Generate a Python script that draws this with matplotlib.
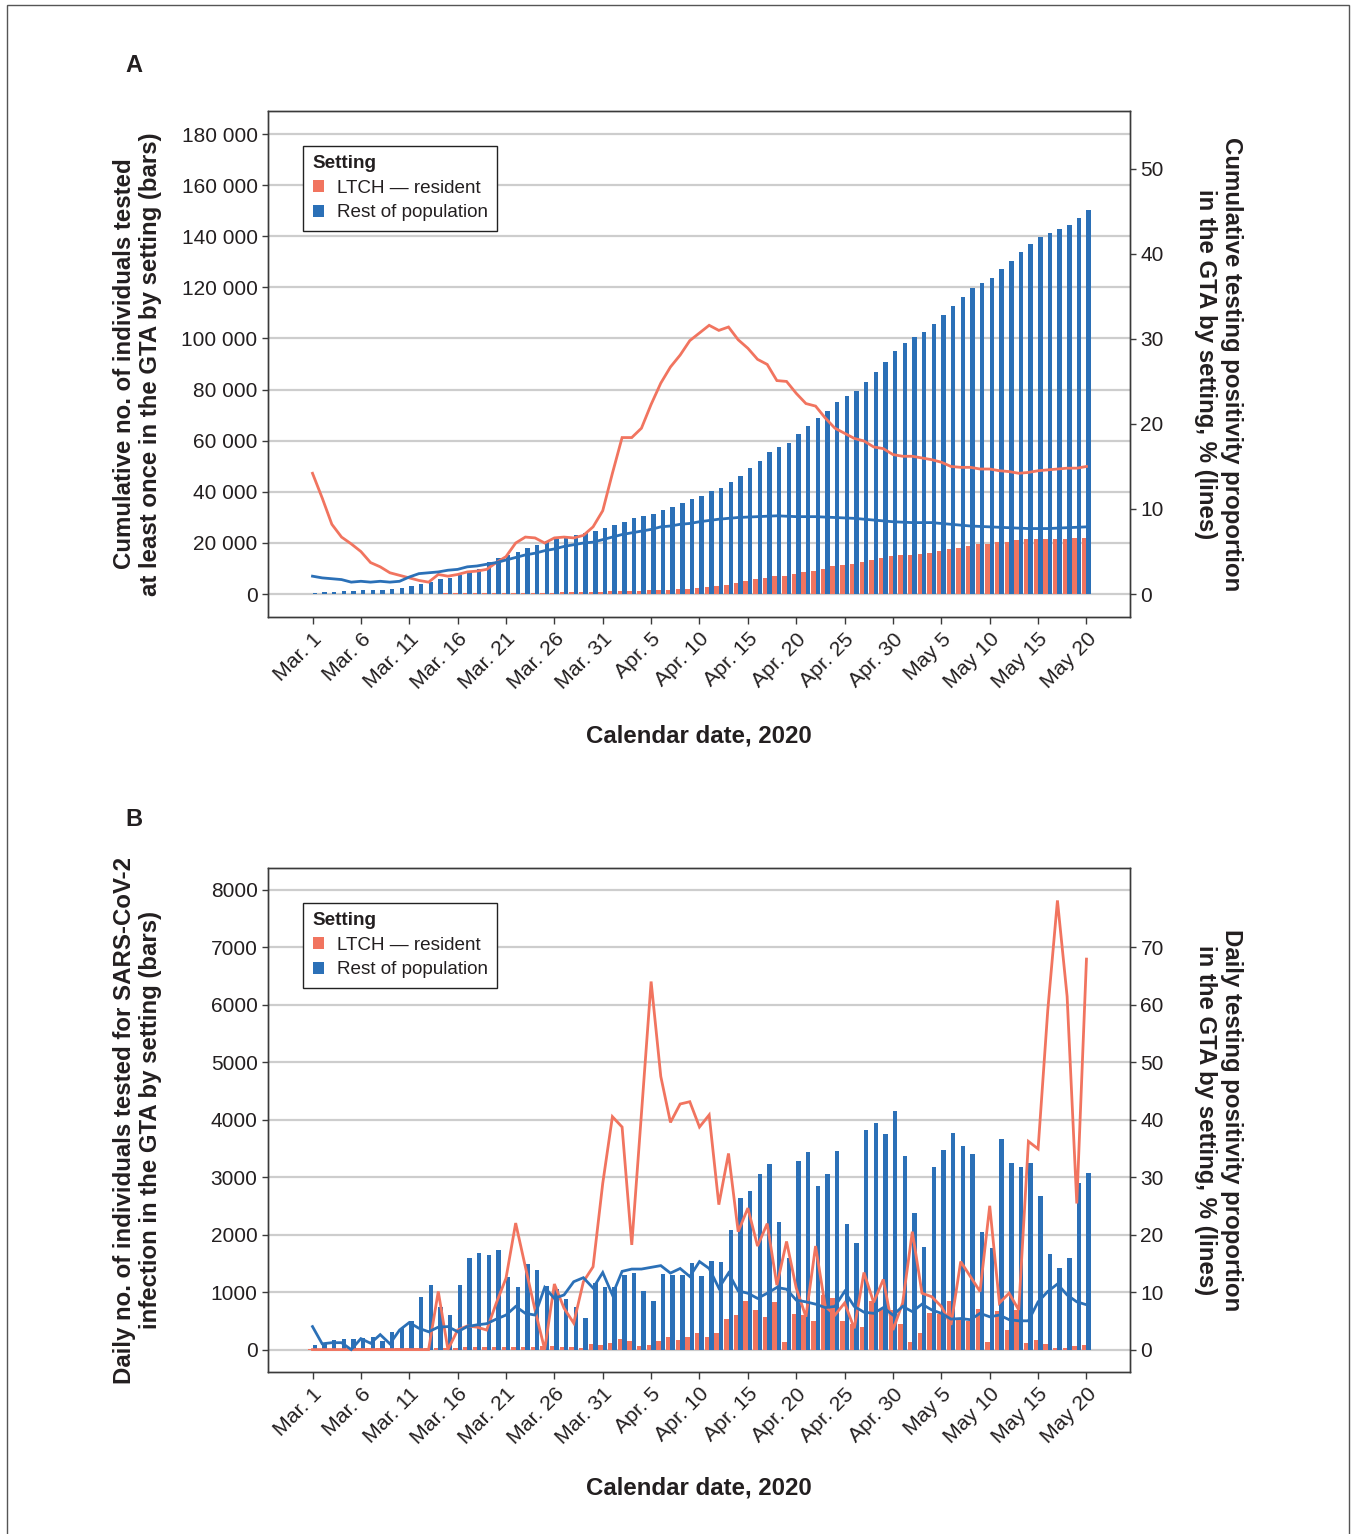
import matplotlib
matplotlib.use("Agg")
import matplotlib.pyplot as plt
from matplotlib.patches import Patch, Rectangle
from matplotlib.ticker import FuncFormatter
import numpy as np

plt.rcParams['font.family'] = ['Liberation Sans', 'DejaVu Sans']

# --- Data (Mar. 1 .. May 20, 2020, one value per day) ---
tick_labels = ["Mar. 1", "Mar. 6", "Mar. 11", "Mar. 16", "Mar. 21", "Mar. 26",
               "Mar. 31", "Apr. 5", "Apr. 10", "Apr. 15", "Apr. 20", "Apr. 25",
               "Apr. 30", "May 5", "May 10", "May 15", "May 20"]
series_names = ["LTCH \u2014 resident", "Rest of population"]

# Panel A: cumulative individuals tested (bars) and cumulative positivity % (lines)
cum_ltch = [20, 30, 40, 50, 60, 70, 80, 90, 100, 110, 130, 150, 170, 190, 210, 230,
            250, 270, 300, 330, 360, 400, 440, 480, 530, 580, 640, 700, 760, 820,
            900, 980, 1080, 1200, 1300, 1400, 1550, 1700, 1850, 2100, 2340, 2730,
            3120, 3510, 4290, 5070, 5850, 6240, 7010, 7010, 7790, 8570, 8960, 9740,
            10910, 11300, 11690, 12470, 13250, 14030, 14810, 15200, 15200, 15590,
            15980, 16760, 17540, 17930, 18700, 19490, 19490, 20260, 20260, 21040,
            21430, 21430, 21430, 21430, 21430, 21820, 21820]
cum_rest = [500, 900, 900, 1300, 1300, 1700, 1700, 1700, 2100, 2500, 3300, 4000,
            4800, 6000, 6400, 7500, 8700, 9900, 12600, 14200, 15300, 16500, 18100,
            19200, 20800, 21600, 22000, 23100, 23900, 24700, 25900, 27000, 28200,
            29800, 30500, 31300, 32900, 34100, 35600, 37000, 38500, 40300, 41500,
            43800, 46200, 49300, 52000, 55600, 57500, 59100, 62600, 65700, 68900,
            71600, 75100, 77500, 79400, 82900, 86800, 90800, 95100, 98200, 100500,
            102500, 105600, 109100, 112700, 116200, 119700, 121700, 123600, 127100,
            130300, 133800, 136900, 139650, 141200, 142800, 144350, 147100, 150200]
cum_pos_ltch = [14.2, 11.3, 8.2, 6.7, 5.9, 5.0, 3.7, 3.2, 2.5, 2.2, 1.9, 1.6, 1.4,
                2.3, 2.1, 2.3, 2.6, 2.7, 2.9, 3.7, 4.4, 6.0, 6.7, 6.6, 6.0, 6.6, 6.7,
                6.6, 6.9, 7.9, 9.8, 14.2, 18.4, 18.4, 19.5, 22.3, 24.8, 26.7, 28.1,
                29.8, 30.7, 31.6, 31.0, 31.4, 29.9, 28.9, 27.6, 27.0, 25.1, 25.0,
                23.6, 22.4, 22.1, 20.7, 19.5, 18.9, 18.3, 18.0, 17.3, 17.1, 16.4,
                16.2, 16.2, 16.0, 15.8, 15.5, 15.0, 14.9, 14.9, 14.7, 14.7, 14.5,
                14.4, 14.2, 14.3, 14.5, 14.6, 14.7, 14.8, 14.8, 15.0]
cum_pos_rest = [2.1, 1.9, 1.8, 1.7, 1.4, 1.5, 1.4, 1.5, 1.4, 1.5, 2.0, 2.4, 2.5,
                2.6, 2.8, 2.9, 3.2, 3.3, 3.5, 3.7, 4.0, 4.3, 4.6, 4.8, 5.1, 5.3,
                5.6, 5.8, 6.0, 6.1, 6.4, 6.7, 7.0, 7.2, 7.4, 7.6, 7.9, 8.0, 8.2,
                8.3, 8.5, 8.65, 8.8, 8.9, 9.0, 9.05, 9.1, 9.15, 9.2, 9.15, 9.1, 9.1,
                9.1, 9.05, 9.0, 8.95, 8.9, 8.8, 8.7, 8.6, 8.5, 8.45, 8.4, 8.4, 8.4,
                8.3, 8.2, 8.1, 8.0, 7.95, 7.9, 7.85, 7.8, 7.75, 7.7, 7.7, 7.7, 7.75,
                7.8, 7.85, 7.9]

# Panel B: daily individuals tested (bars) and daily positivity % (lines)
daily_ltch = [10, 10, 15, 15, 20, 20, 20, 20, 25, 25, 30, 30, 30, 35, 35, 35, 40,
              40, 40, 45, 45, 50, 50, 50, 55, 64, 52, 50, 35, 94, 76, 111, 181, 146,
              58, 76, 146, 216, 164, 216, 287, 216, 287, 532, 603, 848, 690, 567,
              831, 129, 620, 603, 497, 954, 901, 497, 445, 400, 848, 702, 690, 445,
              129, 287, 638, 620, 848, 530, 497, 708, 129, 673, 339, 690, 111, 164,
              94, 23, 23, 70, 76]
daily_rest = [75, 100, 160, 180, 180, 200, 215, 150, 310, 370, 490, 910, 1120, 740,
              600, 1120, 1590, 1680, 1640, 1730, 1260, 1090, 1490, 1380, 1100, 1050,
              880, 740, 550, 1150, 1080, 1080, 1290, 1330, 1020, 840, 1310, 1300,
              1290, 1500, 1280, 1540, 1530, 2080, 2630, 2760, 3060, 3230, 2210, 1600,
              3280, 3440, 2850, 3060, 3460, 2190, 1860, 3820, 3940, 3740, 4150, 3370,
              2380, 1790, 3170, 3470, 3770, 3540, 3400, 2050, 1770, 3670, 3250, 3180,
              3250, 2670, 1660, 1420, 1600, 2900, 3070]
daily_pos_ltch = [0, 0, 0, 0, 0, 0, 0, 0, 0, 0, 0, 0, 0, 10.1, 0, 3.4, 4.1, 3.9,
                  3.4, 8.1, 12.4, 22.0, 14.4, 6.9, 0, 11.4, 7.2, 4.6, 11.8, 14.4,
                  28.9, 40.5, 38.7, 18.2, 41.0, 64.0, 47.5, 39.5, 42.7, 43.1, 38.7,
                  40.8, 25.2, 34.1, 20.5, 24.6, 18.0, 21.9, 11.2, 18.8, 10.7, 5.7,
                  18.0, 7.5, 6.0, 8.1, 3.7, 13.4, 8.2, 12.2, 3.4, 8.1, 20.5, 9.8,
                  9.2, 7.5, 4.3, 15.3, 12.7, 10.1, 25.0, 8.1, 9.8, 6.9, 36.2, 34.9,
                  59.0, 78.1, 61.4, 25.4, 67.9]
daily_pos_rest = [4.0, 1.0, 1.2, 1.2, 0.0, 1.9, 1.1, 2.6, 1.0, 3.4, 4.7, 3.7, 3.1,
                  3.9, 4.0, 3.1, 4.0, 4.3, 4.5, 5.3, 6.0, 7.5, 6.3, 6.0, 10.8, 8.9,
                  9.5, 11.8, 12.5, 10.7, 13.4, 9.5, 13.6, 14.0, 14.0, 14.3, 14.6,
                  13.3, 14.1, 12.7, 15.3, 14.1, 10.7, 13.3, 10.2, 9.8, 8.9, 9.8,
                  10.8, 10.5, 8.6, 8.3, 7.9, 7.3, 7.5, 10.1, 7.5, 6.5, 6.3, 7.3, 6.0,
                  7.5, 6.6, 7.9, 6.9, 6.3, 5.3, 5.4, 5.2, 6.3, 5.7, 6.0, 5.2, 5.0,
                  5.0, 8.3, 10.1, 11.4, 9.5, 8.3, 7.8]

ORANGE = "#F1745F"
BLUE = "#2B70B7"
GRID = "#cdcdcd"
SPINE = "#3a3a3a"
TEXT = "#231f20"
LABEL_SIZE = 17.3

days = np.arange(len(cum_rest))
tick_days = days[::5]


def space_thousands(v, pos):
    return f"{int(round(v)):,}".replace(",", " ")


def draw_panel(fig, rect, ltch_bars, rest_bars, ltch_line, rest_line,
               left_lim, left_ticks, right_lim, right_ticks, left_fmt,
               left_label, right_label, xlabel_y):
    ax = fig.add_axes(rect)
    ax2 = ax.twinx()

    ax.bar(days - 0.23, ltch_bars, width=0.46, color=ORANGE, zorder=2)
    ax.bar(days + 0.23, rest_bars, width=0.46, color=BLUE, zorder=2)
    ax2.plot(days, ltch_line, color=ORANGE, lw=2.0, solid_joinstyle='miter')
    ax2.plot(days, rest_line, color=BLUE, lw=2.0, solid_joinstyle='miter')

    ax.set_xlim(-4.6, 84.5)
    ax.set_ylim(*left_lim)
    ax.set_yticks(left_ticks)
    if left_fmt is not None:
        ax.yaxis.set_major_formatter(FuncFormatter(left_fmt))
    ax2.set_ylim(*right_lim)
    ax2.set_yticks(right_ticks)

    ax.yaxis.grid(True, color=GRID, lw=1.6)
    ax.set_axisbelow(True)

    ax.set_xticks(tick_days)
    ax.set_xticklabels(tick_labels, rotation=45, ha='right', va='top',
                       rotation_mode='anchor')

    for a in (ax, ax2):
        for s in a.spines.values():
            s.set_color(SPINE)
            s.set_linewidth(1.0)
        a.tick_params(colors=SPINE, labelcolor=TEXT, labelsize=15, length=4,
                      width=1.0, direction='out')
    ax.tick_params(axis='x', length=5, pad=4, labelsize=15.3)

    ax.set_ylabel(left_label, fontsize=LABEL_SIZE, fontweight='bold', color=TEXT,
                  linespacing=1.15)
    ax.yaxis.set_label_coords(-0.123, 0.5)
    ax2.set_ylabel(right_label, fontsize=LABEL_SIZE, fontweight='bold', color=TEXT,
                   rotation=270, va='center', linespacing=1.15)
    ax2.yaxis.set_label_coords(1.103, 0.5)
    ax.set_xlabel("Calendar date, 2020", fontsize=LABEL_SIZE, fontweight='bold',
                  color=TEXT)
    ax.xaxis.set_label_coords(0.5, xlabel_y)

    handles = [Patch(facecolor=ORANGE, edgecolor='none'),
               Patch(facecolor=BLUE, edgecolor='none')]
    leg = ax2.legend(handles, series_names, title="Setting", loc='upper left',
                     bbox_to_anchor=(0.041, 0.931), borderaxespad=0,
                     fontsize=13.6, title_fontproperties={'weight': 'bold', 'size': 13.6},
                     alignment='left', handlelength=0.62, handleheight=0.62,
                     handletextpad=0.65, labelspacing=0.4, borderpad=0.5,
                     fancybox=False, framealpha=1, edgecolor='#222222')
    leg.get_frame().set_linewidth(1.0)
    for t in leg.get_texts():
        t.set_color(TEXT)
    leg.get_title().set_color(TEXT)
    return ax, ax2


fig = plt.figure(figsize=(13.53, 15.34), dpi=100)

W, H = 1353.0, 1534.0
left, right = 268 / W, 1130 / W

# Panel A
draw_panel(fig, [left, 1 - 617 / H, right - left, (617 - 111) / H],
           cum_ltch, cum_rest, cum_pos_ltch, cum_pos_rest,
           (-9000, 189000), np.arange(0, 180001, 20000),
           (-2.7, 56.8), np.arange(0, 51, 10), space_thousands,
           "Cumulative no. of individuals tested\nat least once in the GTA by setting (bars)",
           "Cumulative testing positivity proportion\nin the GTA by setting, % (lines)",
           -0.213)

# Panel B
draw_panel(fig, [left, 1 - 1372 / H, right - left, (1372 - 868) / H],
           daily_ltch, daily_rest, daily_pos_ltch, daily_pos_rest,
           (-390, 8374), np.arange(0, 8001, 1000),
           (-3.9, 83.74), np.arange(0, 71, 10), None,
           "Daily no. of individuals tested for SARS-CoV-2\ninfection in the GTA by setting (bars)",
           "Daily testing positivity proportion\nin the GTA by setting, % (lines)",
           -0.208)

fig.text(134 / W, 1 - 65 / H, "A", fontsize=17, fontweight='bold', color=TEXT,
         ha='center', va='center')
fig.text(134 / W, 1 - 820 / H, "B", fontsize=17, fontweight='bold', color=TEXT,
         ha='center', va='center')

# outer frame of the figure
fig.patches.append(Rectangle((7 / W, -0.01), (1349 - 7) / W, 1.01 - 5 / H,
                             transform=fig.transFigure, fill=False,
                             edgecolor='#555555', lw=1.0))

fig.savefig("out.png", dpi=100)
